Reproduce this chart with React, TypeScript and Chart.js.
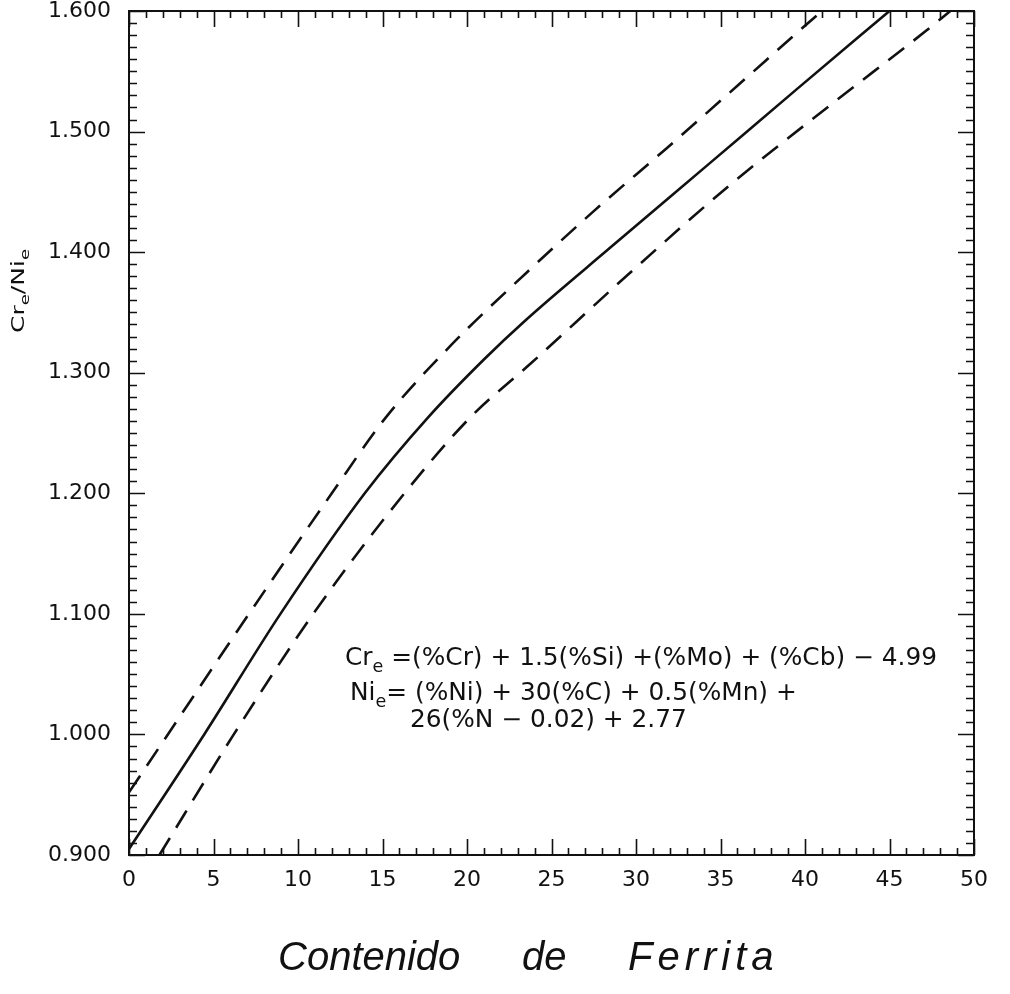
import React, { useEffect, useRef } from 'react';
import { Chart, registerables } from 'chart.js';

Chart.register(...registerables);

// ---- Data ----
const solidX = [0, 4.45, 8.96, 13.95, 17.7, 21.0, 23.5, 28.5, 34.3, 39.5, 45.0];
const solidY = [0.905, 1.0, 1.1, 1.2, 1.263, 1.311, 1.344, 1.404, 1.473, 1.535, 1.6];

const upperX = [0, 2.3, 7.1, 12.0, 15.2, 19.0, 23.6, 27.5, 31.8, 36.0, 40.1, 41.0];
const upperY = [0.952, 1.0, 1.1, 1.2, 1.263, 1.322, 1.384, 1.434, 1.486, 1.538, 1.589, 1.6];

const lowerX = [1.8, 6.2, 10.9, 16.3, 20.2, 23.8, 29.5, 35.5, 41.5, 47.2, 48.6];
const lowerY = [0.9, 1.0, 1.1, 1.2, 1.263, 1.308, 1.381, 1.455, 1.522, 1.584, 1.6];

const X_MIN = 0;
const X_MAX = 50;
const X_STEP = 5;
const Y_MIN = 0.9;
const Y_MAX = 1.6;
const Y_STEP = 0.1;

const Y_TITLE_PARTS = ['Cr', 'e', '/Ni', 'e'];
const X_TITLE_WORDS = ['Contenido', 'de', 'Ferrita'];
const FORMULA_1 = ['Cr', 'e', ' =(%Cr) + 1.5(%Si) +(%Mo) + (%Cb) \u2212 4.99'];
const FORMULA_2 = ['Ni', 'e', '= (%Ni) + 30(%C) + 0.5(%Mn) +'];
const FORMULA_3 = ['26(%N \u2212 0.02) + 2.77'];

const toPoints = (xs: number[], ys: number[]) => xs.map((x, i) => ({ x, y: ys[i] }));

function richWidth(ctx: CanvasRenderingContext2D, parts: string[], size: number, family: string, style = '') {
  const subSize = Math.round(size * 0.72);
  let total = 0;
  parts.forEach((p, i) => {
    ctx.font = i % 2 === 1 ? `${style} ${subSize}px ${family}` : `${style} ${size}px ${family}`;
    total += ctx.measureText(p).width;
  });
  return total;
}

// draw text parts (alternating normal / subscript) with a horizontal scale
function drawRich(
  ctx: CanvasRenderingContext2D,
  parts: string[],
  x: number,
  baseline: number,
  sx: number,
  size: number,
  family: string,
  style = ''
) {
  const subSize = Math.round(size * 0.72);
  const fontMain = `${style} ${size}px ${family}`;
  const fontSub = `${style} ${subSize}px ${family}`;
  ctx.save();
  ctx.translate(x, baseline);
  ctx.scale(sx, 1);
  let cx = 0;
  parts.forEach((p, i) => {
    const sub = i % 2 === 1;
    ctx.font = sub ? fontSub : fontMain;
    ctx.fillText(p, cx, sub ? size * 0.28 : 0);
    cx += ctx.measureText(p).width;
  });
  ctx.restore();
}

function drawSpaced(ctx: CanvasRenderingContext2D, text: string, x: number, baseline: number, font: string, spacing: number) {
  ctx.save();
  ctx.font = font;
  let cx = x;
  for (const ch of text) {
    ctx.fillText(ch, cx, baseline);
    cx += ctx.measureText(ch).width + spacing;
  }
  ctx.restore();
}

const framePlugin = {
  id: 'frameTicks',
  afterDraw(chart: any) {
    const { ctx, chartArea, scales } = chart;
    const { left, right, top, bottom } = chartArea;
    const xs = scales.x;
    const ys = scales.y;
    ctx.save();
    ctx.strokeStyle = '#111';
    ctx.lineWidth = 2;
    ctx.strokeRect(left, top, right - left, bottom - top);
    ctx.lineWidth = 1.6;
    ctx.beginPath();
    for (let v = X_MIN; v <= X_MAX; v++) {
      const px = Math.round(xs.getPixelForValue(v)) + 0.5;
      const len = v % 5 === 0 ? 16 : 7;
      ctx.moveTo(px, bottom);
      ctx.lineTo(px, bottom - len);
      ctx.moveTo(px, top);
      ctx.lineTo(px, top + len);
    }
    for (let k = 0; k <= 70; k++) {
      const py = Math.round(ys.getPixelForValue(Y_MIN + k / 100)) + 0.5;
      const len = k % 10 === 0 ? 16 : 8;
      ctx.moveTo(left, py);
      ctx.lineTo(left + len, py);
      ctx.moveTo(right, py);
      ctx.lineTo(right - len, py);
    }
    ctx.stroke();

    ctx.fillStyle = '#111';
    ctx.textAlign = 'left';
    ctx.textBaseline = 'alphabetic';
    // formulas (one typeface, one scale for all three lines)
    const fam = '"DejaVu Sans"';
    const sx = 592 / richWidth(ctx, FORMULA_1, 24, fam);
    drawRich(ctx, FORMULA_1, 345, 665, sx, 24, fam);
    drawRich(ctx, FORMULA_2, 350, 700, sx, 24, fam);
    drawRich(ctx, FORMULA_3, 410, 727, sx, 24, fam);

    // y title (rotated)
    ctx.save();
    ctx.translate(24, 333);
    ctx.rotate(-Math.PI / 2);
    const ysx = 84 / richWidth(ctx, Y_TITLE_PARTS, 18, fam);
    drawRich(ctx, Y_TITLE_PARTS, 0, 0, ysx, 18, fam);
    ctx.restore();

    // x title (hand-lettered look)
    const tf = 'italic 40px "Liberation Sans"';
    drawSpaced(ctx, X_TITLE_WORDS[0], 278, 970, tf, 0);
    drawSpaced(ctx, X_TITLE_WORDS[1], 522, 970, tf, 0);
    drawSpaced(ctx, X_TITLE_WORDS[2], 628, 970, tf, 5);
    ctx.restore();
  },
};

export default function App() {
  const ref = useRef<HTMLCanvasElement | null>(null);

  useEffect(() => {
    if (!ref.current) return;
    const lineBase = {
      borderColor: '#111',
      borderWidth: 2.6,
      pointRadius: 0,
      showLine: true,
      fill: false,
      cubicInterpolationMode: 'monotone' as const,
    };
    const chart = new Chart(ref.current, {
      type: 'scatter',
      data: {
        datasets: [
          { ...lineBase, label: 'media', data: toPoints(solidX, solidY) },
          { ...lineBase, label: 'superior', data: toPoints(upperX, upperY), borderDash: [20, 12] },
          { ...lineBase, label: 'inferior', data: toPoints(lowerX, lowerY), borderDash: [20, 12] },
        ],
      },
      options: {
        animation: false,
        responsive: true,
        maintainAspectRatio: false,
        layout: { padding: { top: 11, right: 36, left: 0, bottom: 0 } },
        plugins: { legend: { display: false }, tooltip: { enabled: false } },
        scales: {
          x: {
            type: 'linear',
            min: X_MIN,
            max: X_MAX,
            grid: { display: false, drawTicks: false },
            border: { display: false },
            ticks: {
              stepSize: X_STEP,
              color: '#111',
              padding: 12,
              font: { family: '"DejaVu Sans"', size: 22 },
              maxRotation: 0,
              autoSkip: false,
            },
            afterFit: (s: any) => {
              s.height = 139;
              s.paddingLeft = 0;
              s.paddingRight = 0;
            },
          },
          y: {
            type: 'linear',
            min: Y_MIN,
            max: Y_MAX,
            grid: { display: false, drawTicks: false },
            border: { display: false },
            ticks: {
              stepSize: Y_STEP,
              color: '#111',
              padding: 18,
              font: { family: '"DejaVu Sans"', size: 22 },
              callback: (v: any) => Number(v).toFixed(3),
            },
            afterFit: (s: any) => {
              s.width = 129;
              s.paddingTop = 0;
              s.paddingBottom = 0;
            },
          },
        },
      },
      plugins: [framePlugin],
    });
    return () => chart.destroy();
  }, []);

  return (
    <div style={{ position: 'absolute', left: 0, top: 0, width: 1010, height: 994, background: '#fff' }}>
      <canvas ref={ref} />
    </div>
  );
}
